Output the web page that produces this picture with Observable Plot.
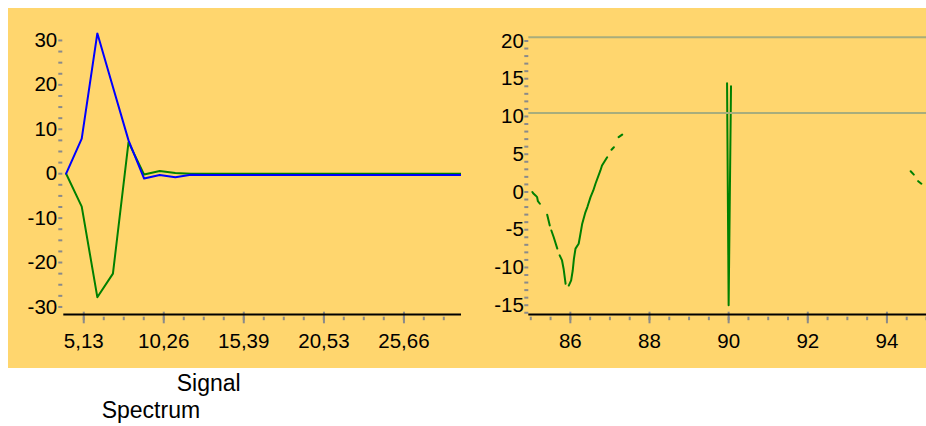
<!DOCTYPE html>
<html>
<head>
<meta charset="utf-8">
<script src="https://cdn.jsdelivr.net/npm/d3@7"></script>
<script src="https://cdn.jsdelivr.net/npm/@observablehq/plot@0.6"></script>
<style>
  body { margin: 0; background: #ffffff; font-family: "Liberation Sans", Arial, sans-serif; }
  #panel { position: absolute; left: 8px; top: 8px; width: 918px; height: 360px; background: #FFD66E; overflow: hidden; }
  #left { position: absolute; left: 0; top: 0; }
  #right { position: absolute; left: 462px; top: 0; }
  .leg { position: absolute; font-size: 23px; line-height: 23px; color: #000; white-space: nowrap; }
</style>
</head>
<body>
<div id="panel"><div id="left"></div><div id="right"></div></div>
<div class="leg" style="left:176.7px;top:371.5px">Signal</div>
<div class="leg" style="left:101.7px;top:399px">Spectrum</div>
<script>
// ---- Left panel data (time signal) ----
const signalX   = [4, 5, 6, 7, 8, 9, 10, 11, 12, 13, 14, 15, 16, 17, 18, 19, 20, 21, 22, 23, 24, 25, 26, 27, 28, 29, 30];
const signalBlue  = [0, 7.9, 31.6, 19.5, 7.5, -1.1, -0.3, -0.8, -0.25, -0.3, -0.3, -0.3, -0.3, -0.3, -0.3, -0.3, -0.3, -0.3, -0.3, -0.3, -0.3, -0.3, -0.3, -0.3, -0.3, -0.3, -0.3];
const signalGreen = [0, -7.4, -27.8, -22.5, 7.1, -0.2, 0.6, 0.15, 0, 0, 0, 0, 0, 0, 0, 0, 0, 0, 0, 0, 0, 0, 0, 0, 0, 0, 0];
const leftXTicks = [5.13, 10.26, 15.39, 20.53, 25.66];
const leftXLabels = ["5,13", "10,26", "15,39", "20,53", "25,66"];
const leftYTicks = [-30, -20, -10, 0, 10, 20, 30];

// ---- Right panel data (spectrum, gaps = null) ----
const specX = [85.04, 85.06, 85.12, 85.16, 85.18, 85.23, 85.32, 85.415, 85.48, 85.50, 85.52, 85.58, 85.67, 85.70, 85.73, 85.79, 85.83, 85.88, 85.92,
               85.96, 86.02, 86.06, 86.09, 86.13, 86.21, 86.24, 86.30, 86.38, 86.43, 86.51, 86.58, 86.635, 86.76, 86.80, 86.93, 86.98,
               87.04, 87.10, 87.16, 87.22, 87.31, 88.6, 89.96, 90.0, 90.06, 92.3, 94.60, 94.68, 94.73, 94.79, 94.87];
const specY = [0, -0.16, -0.46, -0.69, -1.22, -1.56, null, -3.02, -4.44, null, -5.1, -6.0, -7.5, null, -8.4, -9.07, -10.2, -12.16, null,
               -12.4, -11.7, -10.4, -8.85, -7.5, -6.86, -6.0, -4.2, -2.7, -2.0, -0.69, 0.2, 1.09, 2.85, 3.5, 4.6, null,
               5.59, 5.93, null, 7.26, 7.6, null, 14.4, -15.0, 14.0, null, 2.75, 2.3, null, 1.43, 1.09];
const specGrid = [20.5, 10.45];
const rightXTicks = [86, 88, 90, 92, 94];
const rightXLabels = ["86", "88", "90", "92", "94"];
const rightYTicks = [-15, -10, -5, 0, 5, 10, 15, 20];

const gray = "#8a8a8a";
const style = { fontFamily: '"Liberation Sans", Arial, sans-serif', fontSize: "20.5px", color: "#000", background: "transparent", overflow: "visible" };

// ---- Left plot ----
const lxDom = [3.85, 29.35], lyDom = [-31.7, 31.7];
const lxMinor = d3.range(0, 20).map(k => 5.13 + k * 1.2825).filter(v => v <= lxDom[1]);
const lyMinor = d3.range(-30, 30.01, 2.5);
const left = Plot.plot({
  width: 462, height: 360,
  marginLeft: 55.3, marginRight: 9, marginTop: 24.4, marginBottom: 54,
  style,
  x: { domain: lxDom, label: null },
  y: { domain: lyDom, label: null },
  marks: [
    Plot.axisY({ ticks: lyMinor, tickSize: 4, dx: -1, stroke: gray, strokeWidth: 2, tickFormat: () => "", label: null }),
    Plot.axisY({ ticks: leftYTicks, tickSize: 0, tickPadding: 6.6, tickFormat: d => String(d), label: null }),
    Plot.axisX({ ticks: lxMinor, tickSize: 3.5, dy: 2.7, stroke: gray, strokeWidth: 2, tickFormat: () => "", label: null }),
    Plot.axisX({ ticks: leftXTicks, tickSize: 11.6, dy: -2.3, stroke: gray, strokeWidth: 2, tickFormat: () => "", label: null }),
    Plot.axisX({ ticks: leftXTicks, tickSize: 0, tickPadding: 19.1, tickFormat: d => leftXLabels[leftXTicks.indexOf(d)], label: null }),
    Plot.ruleY([lyDom[0]], { stroke: "#000", strokeWidth: 2 }),
    Plot.line(signalX, { x: signalX, y: signalGreen, stroke: "#008000", strokeWidth: 2, clip: true }),
    Plot.line(signalX, { x: signalX, y: signalBlue, stroke: "#0000ff", strokeWidth: 2, clip: true })
  ]
});
document.getElementById("left").appendChild(left);

// ---- Right plot ----
const rxDom = [84.95, 95.0], ryDom = [-16.23, 21.07];
const rxMinor = d3.range(85, 95.01, 0.5);
const ryMinor = d3.range(-16, 20.01, 1);
const right = Plot.plot({
  width: 456, height: 360,
  marginLeft: 58.3, marginRight: 0, marginTop: 24.4, marginBottom: 54,
  style,
  x: { domain: rxDom, label: null },
  y: { domain: ryDom, label: null },
  marks: [
    Plot.axisY({ ticks: ryMinor, tickSize: 4, stroke: gray, strokeWidth: 2, tickFormat: () => "", label: null }),
    Plot.axisY({ ticks: rightYTicks, tickSize: 0, tickPadding: 5, tickFormat: d => String(d), label: null }),
    Plot.axisX({ ticks: rxMinor, tickSize: 3.5, dy: 2.7, stroke: gray, strokeWidth: 2, tickFormat: () => "", label: null }),
    Plot.axisX({ ticks: rightXTicks, tickSize: 11.6, dy: -2.3, stroke: gray, strokeWidth: 2, tickFormat: () => "", label: null }),
    Plot.axisX({ ticks: rightXTicks, tickSize: 0, tickPadding: 19.1, tickFormat: d => rightXLabels[rightXTicks.indexOf(d)], label: null }),
    Plot.line(specX, { x: specX, y: specY, stroke: "#008000", strokeWidth: 2 }),
    Plot.ruleY(specGrid, { stroke: "#a8ad7c", strokeWidth: 2 }),
    Plot.ruleY([ryDom[0]], { stroke: "#000", strokeWidth: 2 })
  ]
});
document.getElementById("right").appendChild(right);
</script>
</body>
</html>
